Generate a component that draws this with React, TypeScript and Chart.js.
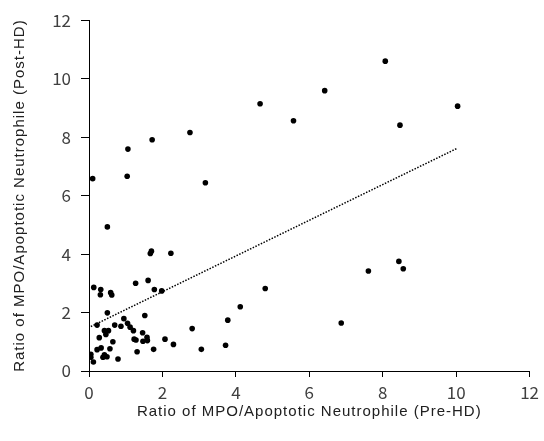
import React, { useEffect, useRef } from "react";
import { Chart, registerables } from "chart.js";

Chart.register(...registerables);

const preHD: number[] = [
  0.1, 0.5, 1.06, 1.04, 1.72, 2.75, 3.17, 4.66, 5.57, 6.42, 8.07, 8.47, 10.04,
  1.67, 1.7, 2.23, 1.61, 1.27, 0.13, 0.32, 0.31, 0.59, 0.62, 1.78, 1.98, 0.5,
  3.06, 3.72, 3.78, 4.12, 4.8, 6.87, 7.61, 8.44, 8.56,
  0.22, 0.7, 0.87, 0.95, 1.05, 1.12, 1.21, 1.52, 0.42, 0.53, 0.46, 0.28, 0.65,
  1.23, 1.28, 1.46, 1.58, 1.47, 1.59, 1.31, 1.76, 2.07, 2.3, 2.81, 0.22, 0.33,
  0.57, 0.42, 0.38, 0.49, 0.79, 0.05, 0.05, 0.12,
];
const postHD: number[] = [
  6.58, 4.93, 7.59, 6.66, 7.91, 8.16, 6.44, 9.14, 8.56, 9.59, 10.6, 8.41, 9.06,
  4.02, 4.1, 4.03, 3.1, 3.0, 2.86, 2.79, 2.61, 2.68, 2.6, 2.79, 2.74, 1.99,
  0.74, 0.88, 1.74, 2.2, 2.82, 1.64, 3.42, 3.75, 3.5,
  1.57, 1.57, 1.53, 1.79, 1.63, 1.5, 1.38, 1.9, 1.38, 1.38, 1.25, 1.14, 1.0,
  1.09, 1.06, 1.31, 1.15, 1.02, 1.04, 0.66, 0.74, 1.09, 0.91, 1.45, 0.73, 0.79,
  0.76, 0.55, 0.47, 0.49, 0.41, 0.57, 0.47, 0.31,
];
const trendX: number[] = [0.05, 10.04];
const trendSlope = 0.611;
const trendIntercept = 1.49;

const xTitle = "Ratio of MPO/Apoptotic Neutrophile (Pre-HD)";
const yTitle = "Ratio of MPO/Apoptotic Neutrophile (Post-HD)";

const FONT = "'Noto Sans CJK JP', 'Liberation Sans', sans-serif";
const TITLE_FONT = "'Liberation Sans', Arial, sans-serif";
const TEXT = "#404040";

function spacedTitle(s: any) {
  if (s.__spaced) return;
  const orig = s.drawTitle;
  s.drawTitle = function (...args: any[]) {
    const ctx = this.ctx;
    ctx.save();
    (ctx as any).letterSpacing = "1px";
    orig.apply(this, args);
    ctx.restore();
  };
  s.__spaced = true;
}

export default function App() {
  const ref = useRef<HTMLCanvasElement | null>(null);
  useEffect(() => {
    if (!ref.current) return;
    const points = preHD.map((x, i) => ({ x, y: postHD[i] }));
    const trend = trendX.map((x) => ({ x, y: trendSlope * x + trendIntercept }));
    const chart = new Chart(ref.current, {
      type: "scatter",
      data: {
        datasets: [
          {
            data: points,
            backgroundColor: "#000000",
            borderColor: "#000000",
            pointRadius: 2.8,
            pointBorderWidth: 0,
          },
          {
            type: "line",
            data: trend,
            borderColor: "#000000",
            borderWidth: 1.5,
            borderDash: [1.5, 1.5],
            pointRadius: 0,
            fill: false,
          } as any,
        ],
      },
      options: {
        animation: false,
        responsive: false,
        maintainAspectRatio: false,
        layout: { padding: { left: 0, right: 11, top: 19, bottom: 0 } },
        plugins: { legend: { display: false }, tooltip: { enabled: false } },
        scales: {
          x: {
            type: "linear",
            min: 0,
            max: 12,
            ticks: { stepSize: 2, color: TEXT, font: { family: FONT, size: 17 }, padding: 5 },
            grid: {
              drawOnChartArea: false,
              drawTicks: true,
              tickLength: 6,
              color: "#000000",
              tickColor: "#000000",
            },
            border: { display: true, color: "#000000", width: 1 },
            title: {
              display: true,
              text: xTitle,
              color: "#202020",
              font: { family: TITLE_FONT, size: 15 },
              padding: { top: 0, bottom: 20 },
            },
            afterFit: (s: any) => {
              s.height = 70;
            },
            afterUpdate: spacedTitle,
          },
          y: {
            type: "linear",
            min: 0,
            max: 12,
            ticks: { stepSize: 2, color: TEXT, font: { family: FONT, size: 17 }, padding: 10 },
            grid: {
              drawOnChartArea: false,
              drawTicks: true,
              tickLength: 8,
              color: "#000000",
              tickColor: "#000000",
            },
            border: { display: true, color: "#000000", width: 1 },
            title: {
              display: true,
              text: yTitle,
              color: "#202020",
              font: { family: TITLE_FONT, size: 15 },
              padding: { top: 11, bottom: 0 },
            },
            afterFit: (s: any) => {
              s.width = 89;
            },
            afterUpdate: spacedTitle,
          },
        },
      },
    });
    return () => chart.destroy();
  }, []);
  return (
    <div style={{ position: "fixed", left: 0, top: 0, width: 544, height: 441, background: "#fff" }}>
      <canvas ref={ref} width={544} height={441} style={{ width: 544, height: 441 }} />
    </div>
  );
}
